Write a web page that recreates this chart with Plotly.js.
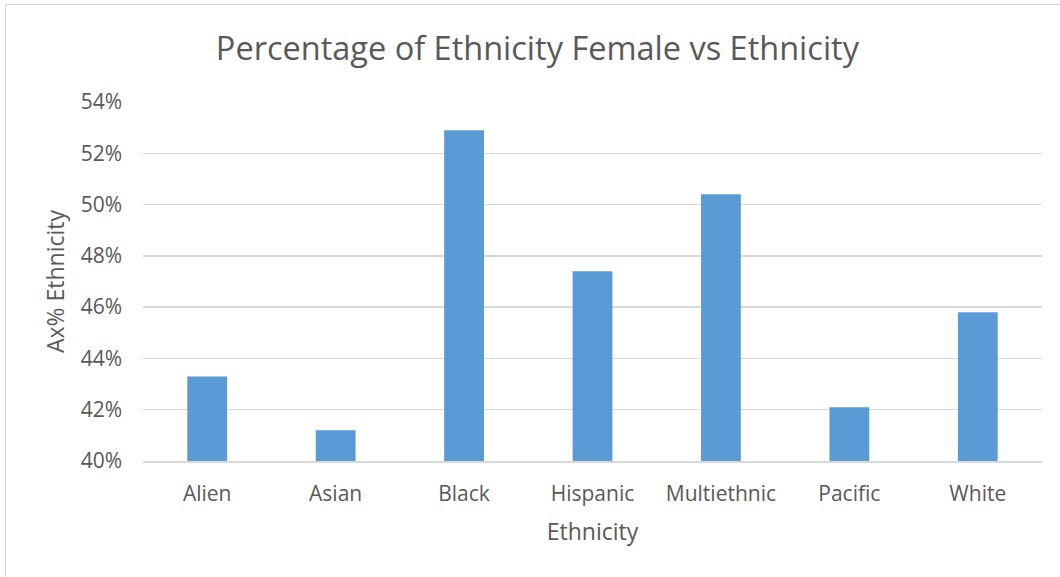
<!DOCTYPE html>
<html>
<head>
<meta charset="utf-8">
<script src="https://cdn.plot.ly/plotly-3.0.1.min.js"></script>
<style>
html,body{margin:0;padding:0;background:#fff;}
#frame{position:absolute;left:5px;top:4px;width:1060px;height:580px;border-left:1px solid #d9d9d9;border-top:1px solid #d9d9d9;}
#chart{position:absolute;left:0;top:0;width:1060px;height:577px;}
</style>
</head>
<body>
<div id="frame"></div>
<div id="chart"></div>
<script>
const categories = ["Alien", "Asian", "Black", "Hispanic", "Multiethnic", "Pacific", "White"];
const femalePct = [0.433, 0.412, 0.529, 0.474, 0.504, 0.421, 0.458];
const yTicks = [0.40, 0.42, 0.44, 0.46, 0.48, 0.50, 0.52, 0.54];

const font = "Open Sans, Noto Sans, sans-serif";
const trace = {
  type: "bar",
  x: categories,
  y: femalePct,
  marker: {color: "#5B9BD5"},
  width: 0.31,
  hoverinfo: "x+y"
};

const layout = {
  width: 1060,
  height: 577,
  margin: {l: 143, r: 18, t: 102, b: 116},
  paper_bgcolor: "rgba(0,0,0,0)",
  plot_bgcolor: "rgba(0,0,0,0)",
  showlegend: false,
  title: {
    text: "Percentage of Ethnicity Female vs Ethnicity",
    font: {family: font, size: 32.5, color: "#595959"},
    x: 0.507, xanchor: "center",
    y: 0.915, yanchor: "middle"
  },
  xaxis: {
    type: "category",
    showgrid: false,
    showline: true,
    linecolor: "#d9d9d9",
    linewidth: 1.5,
    ticks: "",
    tickfont: {family: font, size: 21, color: "#595959"},
    ticklabelstandoff: 13,
    title: {text: "Ethnicity", font: {family: font, size: 23, color: "#595959"}, standoff: 18}
  },
  yaxis: {
    range: [0.40, 0.54],
    tickvals: yTicks,
    tickformat: ".0%",
    showgrid: true,
    gridcolor: "#d9d9d9",
    gridwidth: 1.5,
    zeroline: false,
    showline: false,
    ticks: "",
    tickfont: {family: font, size: 21, color: "#595959"},
    ticklabelstandoff: 20,
    title: {text: "Ax% Ethnicity", font: {family: font, size: 23, color: "#595959"}, standoff: 9}
  },
  bargap: 0.69
};
Plotly.newPlot("chart", [trace], layout, {displayModeBar: false, staticPlot: true});
</script>
</body>
</html>
